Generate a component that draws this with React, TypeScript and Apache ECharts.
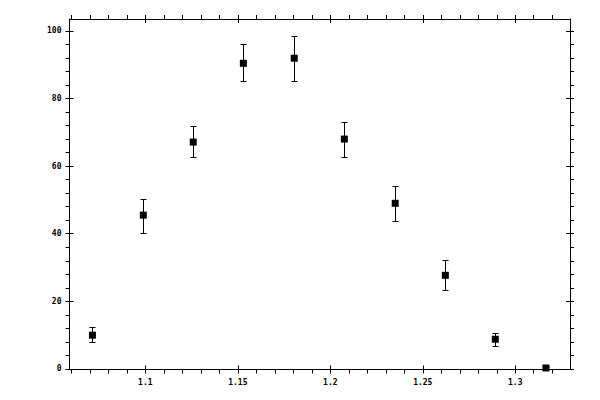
import React, { useEffect, useRef } from "react";
import * as echarts from "echarts";

const xValues = [1.0714, 1.0989, 1.1259, 1.153, 1.1805, 1.2076, 1.2351, 1.2622, 1.2892, 1.3166];
const yValues = [10.0, 45.5, 67.1, 90.4, 91.9, 68.0, 49.0, 27.7, 8.8, 0.3];
const errLow = [7.9, 40.1, 62.6, 85.1, 85.1, 62.6, 43.7, 23.3, 6.7, 0.0];
const errHigh = [12.3, 50.4, 71.8, 96.1, 98.5, 73.0, 54.2, 32.3, 10.6, 0.5];

const xMajorTicks = [1.1, 1.15, 1.2, 1.25, 1.3];
const xMinorTicks = [1.06, 1.07, 1.08, 1.09, 1.1, 1.11, 1.12, 1.13, 1.14, 1.15, 1.16, 1.17, 1.18, 1.19, 1.2, 1.21, 1.22, 1.23, 1.24, 1.25, 1.26, 1.27, 1.28, 1.29, 1.3, 1.31, 1.32];
const yMajorTicks = [0, 20, 40, 60, 80, 100];
const yMinorTicks = [0, 4, 8, 12, 16, 20, 24, 28, 32, 36, 40, 44, 48, 52, 56, 60, 64, 68, 72, 76, 80, 84, 88, 92, 96, 100];

const X_MIN = 1.059;
const X_MAX = 1.3296;
const Y_MIN = -0.15;
const Y_MAX = 103.5;

export default function App() {
  const ref = useRef<HTMLDivElement>(null);
  useEffect(() => {
    if (!ref.current) return;
    const chart = echarts.init(ref.current, undefined, { renderer: "svg" });
    const lineStyle = { color: "#000", width: 1 };
    const labelStyle = {
      color: "#000",
      fontSize: 8,
      fontFamily: "DejaVu Sans Mono",
      fontWeight: "bold" as const,
    };
    const mkX = (gridIndex: number, position: string, inside: boolean, withLabel: boolean) => ({
      type: "value",
      gridIndex,
      position,
      offset: 0,
      min: X_MIN,
      max: X_MAX,
      axisLine: { show: !inside, onZero: false, lineStyle },
      axisTick: {
        show: true,
        inside,
        length: 4,
        customValues: inside ? xMajorTicks : xMinorTicks,
        lineStyle,
      },
      axisLabel: withLabel
        ? { show: true, customValues: xMajorTicks, margin: 9, ...labelStyle }
        : { show: false },
      splitLine: { show: false },
    });
    const mkY = (gridIndex: number, position: string, inside: boolean, withLabel: boolean) => ({
      type: "value",
      gridIndex,
      position,
      offset: 0,
      min: Y_MIN,
      max: Y_MAX,
      axisLine: { show: !inside, onZero: false, lineStyle },
      axisTick: {
        show: true,
        inside,
        length: 4,
        customValues: inside ? yMajorTicks : yMinorTicks,
        lineStyle,
      },
      axisLabel: withLabel
        ? { show: true, customValues: yMajorTicks, margin: 8, ...labelStyle }
        : { show: false },
      splitLine: { show: false },
    });

    const points = xValues.map((x, i) => [x, yValues[i]]);
    const errors = xValues.map((x, i) => [x, errLow[i], errHigh[i]]);
    const gridRect = { left: 69.5, top: 19, right: 30, bottom: 30.5, containLabel: false };

    chart.setOption({
      animation: false,
      backgroundColor: "#fff",
      grid: [gridRect, gridRect],
      xAxis: [
        mkX(0, "bottom", false, true),
        mkX(0, "top", false, false),
        mkX(1, "bottom", true, false),
        mkX(1, "top", true, false),
      ],
      yAxis: [
        mkY(0, "left", false, true),
        mkY(0, "right", false, false),
        mkY(1, "left", true, false),
        mkY(1, "right", true, false),
      ],
      series: [
        {
          type: "custom",
          xAxisIndex: 0,
          yAxisIndex: 0,
          data: errors,
          renderItem: (params: any, api: any) => {
            const x = api.value(0);
            const lo = api.coord([x, api.value(1)]);
            const hi = api.coord([x, api.value(2)]);
            const cx = Math.round(lo[0]) + 0.5;
            const yl = Math.round(lo[1]) + 0.5;
            const yh = Math.round(hi[1]) + 0.5;
            const cap = 3;
            const style = { stroke: "#000", lineWidth: 1 };
            return {
              type: "group",
              children: [
                { type: "line", shape: { x1: cx, y1: yl, x2: cx, y2: yh }, style },
                { type: "line", shape: { x1: cx - cap, y1: yh, x2: cx + cap, y2: yh }, style },
                { type: "line", shape: { x1: cx - cap, y1: yl, x2: cx + cap, y2: yl }, style },
              ],
            };
          },
          z: 2,
        },
        {
          type: "scatter",
          xAxisIndex: 0,
          yAxisIndex: 0,
          data: points,
          symbol: "rect",
          symbolSize: 7,
          itemStyle: { color: "#000", opacity: 1 },
          z: 3,
        },
      ],
    });
    return () => chart.dispose();
  }, []);
  return (
    <div
      ref={ref}
      style={{ position: "absolute", left: 0, top: 0, width: 600, height: 400, background: "#fff" }}
    />
  );
}
